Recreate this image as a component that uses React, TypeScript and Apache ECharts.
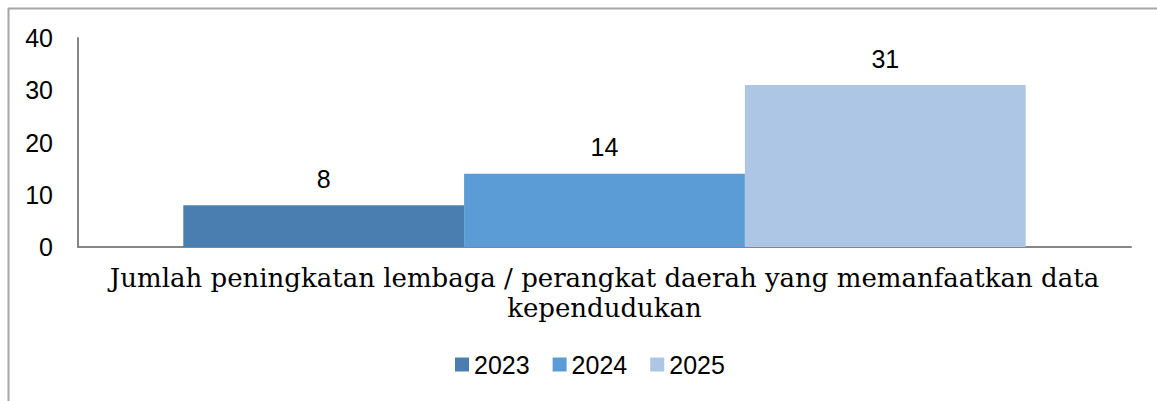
import React, { useEffect, useRef } from "react";
import * as echarts from "echarts";

const categories = ["Jumlah peningkatan lembaga / perangkat daerah yang memanfaatkan data kependudukan"];
const seriesNames = ["2023", "2024", "2025"];
const values2023 = [8];
const values2024 = [14];
const values2025 = [31];
const colors = ["#4A7EB1", "#5B9BD6", "#ADC6E5"];

export default function App() {
  const ref = useRef<HTMLDivElement>(null);
  useEffect(() => {
    const chart = echarts.init(ref.current!, null, { renderer: "svg" });
    const data = [values2023, values2024, values2025];
    const sans = "Liberation Sans, Arial, sans-serif";
    chart.setOption({
      animation: false,
      grid: { left: 78, right: 26, top: 38, bottom: 154, containLabel: false },
      legend: {
        left: 450,
        top: 347,
        itemWidth: 14,
        itemHeight: 14,
        itemGap: 23,
        icon: "rect",
        textStyle: { fontSize: 25, color: "#000", fontFamily: sans },
        data: seriesNames,
      },
      xAxis: {
        type: "category",
        data: categories,
        axisLine: { show: true, lineStyle: { color: "#868686", width: 2 } },
        axisTick: { show: false },
        axisLabel: {
          margin: 16,
          fontSize: 26,
          lineHeight: 30,
          color: "#000",
          fontFamily: "DejaVu Serif, serif",
          formatter: (v: string) => v.replace(" kependudukan", "\nkependudukan"),
        },
      },
      yAxis: {
        type: "value",
        min: 0,
        max: 40,
        interval: 10,
        axisLine: { show: true, lineStyle: { color: "#868686", width: 2 } },
        axisTick: { show: false },
        splitLine: { show: false },
        axisLabel: { margin: 25, fontSize: 25, color: "#000", fontFamily: sans },
      },
      series: seriesNames.map((name, i) => ({
        name,
        type: "bar",
        data: data[i],
        barGap: "0%",
        barCategoryGap: "20%",
        itemStyle: { color: colors[i] },
        label: {
          show: true,
          position: "top",
          distance: 14,
          fontSize: 25,
          color: "#000",
          fontFamily: sans,
        },
      })),
      graphic: [
        { type: "line", shape: { x1: 8, y1: 8.5, x2: 1157, y2: 8.5 }, style: { stroke: "#a6a6a6", lineWidth: 2 } },
        { type: "line", shape: { x1: 8.5, y1: 8, x2: 8.5, y2: 401 }, style: { stroke: "#a6a6a6", lineWidth: 2 } },
      ],
    });
    return () => chart.dispose();
  }, []);
  return <div ref={ref} style={{ position: "fixed", left: 0, top: 0, width: 1157, height: 401, background: "#fff" }} />;
}
